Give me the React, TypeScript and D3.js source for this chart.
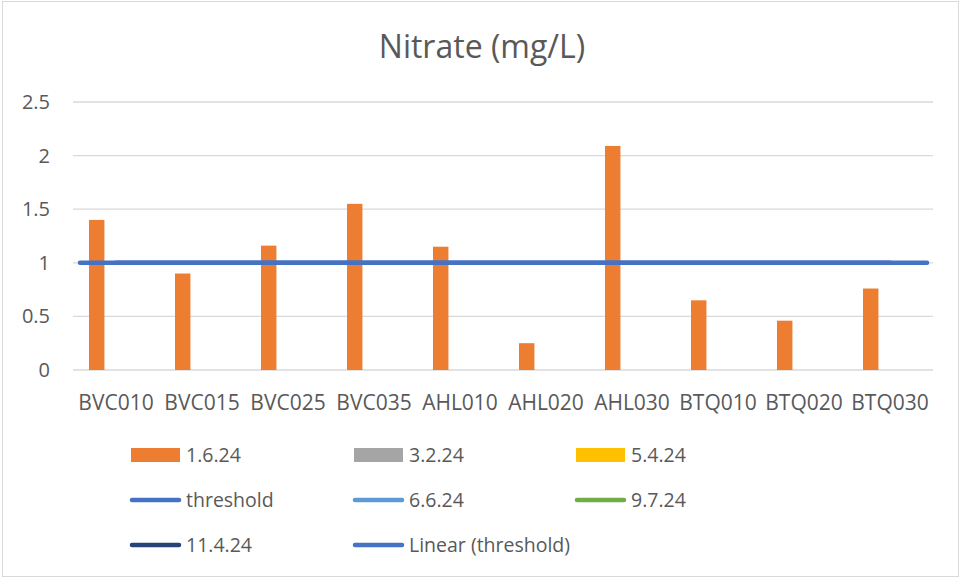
import React from "react";
import * as d3 from "d3";

const categories = ["BVC010","BVC015","BVC025","BVC035","AHL010","AHL020","AHL030","BTQ010","BTQ020","BTQ030"];
const barSeries = ["1.6.24","3.2.24","5.4.24"];
const values_1_6_24 = [1.40,0.90,1.16,1.55,1.15,0.25,2.09,0.65,0.46,0.76];
const threshold = [1,1,1,1,1,1,1,1,1,1];
const yTicks = [0,0.5,1,1.5,2,2.5];

const legendItems = [
  { label: "1.6.24", kind: "rect", color: "#ED7D31" },
  { label: "3.2.24", kind: "rect", color: "#A5A5A5" },
  { label: "5.4.24", kind: "rect", color: "#FFC000" },
  { label: "threshold", kind: "line", color: "#4472C4" },
  { label: "6.6.24", kind: "line", color: "#5B9BD5" },
  { label: "9.7.24", kind: "line", color: "#70AD47" },
  { label: "11.4.24", kind: "line", color: "#264478" },
  { label: "Linear (threshold)", kind: "line", color: "#4472C4" },
];

export default function App() {
  const W = 961, H = 579;
  const font = "'Open Sans', sans-serif";
  const text = "#595959";
  const x0 = d3.scaleBand<string>().domain(categories).range([73, 933]).padding(0);
  const x1 = d3.scaleBand<string>().domain(barSeries).range([16, 70]).paddingInner(0.2);
  const y = d3.scaleLinear().domain([0, 2.5]).range([370, 102]);
  const cx = (c: string) => (x0(c) as number) + x0.bandwidth() / 2;
  const line = d3.line<number>().x((_, i) => cx(categories[i])).y(d => y(d));
  const trendStart = cx(categories[0]) - 36;
  const trendEnd = cx(categories[categories.length - 1]) + 37;
  const colX = [131, 354, 576];
  const rowY = [455, 500, 545];
  return (
    <svg width={W} height={H} style={{ position: "absolute", left: 0, top: 0 }} fontFamily={font}>
      <rect x={0} y={0} width={W} height={H} fill="#fff" />
      <rect x={2.5} y={1.5} width={W - 5} height={H - 4} fill="none" stroke="#D9D9D9" strokeWidth={1} />
      <text x={482} y={58} textAnchor="middle" fontSize={32} fill={text}>Nitrate (mg/L)</text>
      {yTicks.map(t => (
        <g key={t}>
          <line x1={73} x2={933} y1={y(t)} y2={y(t)} stroke="#D9D9D9" strokeWidth={1.3} />
          <text x={50} y={y(t)} dy="0.35em" textAnchor="end" fontSize={20} fill={text}>{t}</text>
        </g>
      ))}
      {categories.map((c, i) => (
        <rect key={c} x={(x0(c) as number) + (x1(barSeries[0]) as number)} y={y(values_1_6_24[i])}
          width={x1.bandwidth()} height={y(0) - y(values_1_6_24[i])} fill="#ED7D31" />
      ))}
      {categories.map(c => (
        <text key={c} x={cx(c)} y={403} dy="0.35em" textAnchor="middle" fontSize={21} fill={text}>{c}</text>
      ))}
      <line x1={trendStart} x2={trendEnd} y1={y(1)} y2={y(1)} stroke="#4472C4" strokeWidth={4.5} strokeLinecap="round" />
      <path d={line(threshold) || ""} fill="none" stroke="#4472C4" strokeWidth={4.5} strokeLinecap="round" />
      {legendItems.map((it, i) => {
        const cxl = colX[i % 3], cy = rowY[Math.floor(i / 3)];
        return (
          <g key={it.label}>
            {it.kind === "rect"
              ? <rect x={cxl} y={cy - 7} width={49} height={14} fill={it.color} />
              : <line x1={cxl + 1} x2={cxl + 48} y1={cy} y2={cy} stroke={it.color} strokeWidth={4.5} strokeLinecap="round" />}
            <text x={cxl + 55} y={cy} dy="0.35em" fontSize={19.5} fill={text}>{it.label}</text>
          </g>
        );
      })}
    </svg>
  );
}
